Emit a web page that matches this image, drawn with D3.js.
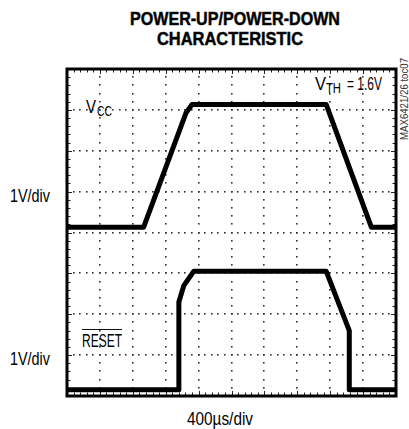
<!DOCTYPE html>
<html><head><meta charset="utf-8">
<script src="https://cdn.jsdelivr.net/npm/d3@7"></script>
<style>
body{margin:0;background:#fff;}
svg{display:block;}
text{font-family:"Liberation Sans Narrow","Liberation Sans",Arial,sans-serif;fill:#000;}
</style></head>
<body>
<svg id="c" width="409" height="429"></svg>
<script>
// ---- data (time in divisions of 400us, voltage in volts) ----
const titleLines = ["POWER-UP/POWER-DOWN", "CHARACTERISTIC"];
const vccTime = [0, 2.33, 3.62, 3.80, 7.88, 9.25, 10];
const vccVolts = [0, 0, 2.80, 3.0, 3.0, 0, 0];
const resetTime = [0, 3.40, 3.40, 3.55, 3.85, 7.88, 8.58, 8.58, 10];
const resetVolts = [0, 0, 2.15, 2.55, 2.9, 2.9, 1.45, 0, 0];
const xDivisions = d3.range(0, 11);
const yDivisions = d3.range(0, 9);
const vccOffsetDiv = 4.13;
const resetOffsetDiv = 0.15;

const svg = d3.select("#c");
const x = d3.scaleLinear().domain([0, 10]).range([67, 396]);
const y = d3.scaleLinear().domain([0, 8]).range([396, 69]);

function label(txt, px, py, size, len, opts) {
  opts = opts || {};
  const t = svg.append("text").attr("x", px).attr("y", py)
    .style("font-size", size + "px").text(txt);
  if (len) t.attr("textLength", len).attr("lengthAdjust", "spacingAndGlyphs");
  if (opts.anchor) t.attr("text-anchor", opts.anchor);
  if (opts.bold) t.style("font-weight", "bold").style("stroke", "#111").style("stroke-width", 0.5);
  if (opts.transform) t.attr("transform", opts.transform);
  if (opts.fill) t.style("fill", opts.fill);
  return t;
}

// title
label(titleLines[0], 130, 25, 17.5, 210, {bold: true});
label(titleLines[1], 157, 45, 17.5, 146, {bold: true});

const g = svg.append("g");
// dotted grid
const minor = d3.range(0, 51).map(i => i / 5);
const minorY = d3.range(0, 41).map(i => i / 5);
xDivisions.slice(1, -1).forEach(xd => {
  minorY.forEach(yd => {
    g.append("rect").attr("x", Math.round(x(xd)) - 1).attr("y", Math.round(y(yd)) - 1)
      .attr("width", 1.6).attr("height", 1.6).attr("fill", "#333");
  });
});
yDivisions.slice(1, -1).forEach(yd => {
  minor.forEach(xd => {
    g.append("rect").attr("x", Math.round(x(xd)) - 1).attr("y", Math.round(y(yd)) - 1)
      .attr("width", 1.6).attr("height", 1.6).attr("fill", "#333");
  });
});
// edge ticks
minorY.forEach((yd, i) => {
  const len = i % 5 === 0 ? 5 : 3.5;
  const yy = Math.round(y(yd)) + 0.5;
  g.append("line").attr("x1", x(0)).attr("x2", x(0) + len).attr("y1", yy).attr("y2", yy)
    .attr("stroke", "#222").attr("stroke-width", 1);
  g.append("line").attr("x1", x(10)).attr("x2", x(10) - len).attr("y1", yy).attr("y2", yy)
    .attr("stroke", "#222").attr("stroke-width", 1);
});
minor.forEach((xd, i) => {
  const len = i % 5 === 0 ? 5 : 3.5;
  const xx = Math.round(x(xd)) + 0.5;
  g.append("line").attr("x1", xx).attr("x2", xx).attr("y1", y(8)).attr("y2", y(8) + len)
    .attr("stroke", "#222").attr("stroke-width", 1);
  g.append("line").attr("x1", xx).attr("x2", xx).attr("y1", y(0)).attr("y2", y(0) - len)
    .attr("stroke", "#222").attr("stroke-width", 1);
});

// traces
const lineVcc = d3.line().x((d, i) => x(vccTime[i])).y(d => y(vccOffsetDiv + d));
const lineReset = d3.line().x((d, i) => x(resetTime[i])).y(d => y(resetOffsetDiv + d));
g.append("path").attr("d", lineVcc(vccVolts)).attr("fill", "none")
  .attr("stroke", "#000").attr("stroke-width", 5).attr("stroke-linejoin", "round");
g.append("path").attr("d", lineReset(resetVolts)).attr("fill", "none")
  .attr("stroke", "#000").attr("stroke-width", 5).attr("stroke-linejoin", "round");

// frame
g.append("rect").attr("x", x(0)).attr("y", y(8)).attr("width", x(10) - x(0)).attr("height", y(0) - y(8))
  .attr("fill", "none").attr("stroke", "#000").attr("stroke-width", 3);

// labels
label("V", 86, 113, 18.5, 10);
label("CC", 97, 116, 14, 15);
label("V", 315, 90, 18, 11);
label("TH", 326, 93, 14, 15);
label("= 1.6V", 347, 90, 18, 35);

label("RESET", 82, 347, 18, 40);
svg.append("line").attr("x1", 82).attr("x2", 122).attr("y1", 329.5).attr("y2", 329.5)
  .attr("stroke", "#111").attr("stroke-width", 1.2);

label("1V/div", 10, 202, 17.5, 40);
label("1V/div", 10, 365, 17.5, 40);
label("400\u00b5s/div", 187, 425, 17.5, 66);

label("MAX6421/26 toc07", 0, 0, 10.5, 82,
  {anchor: "middle", transform: "translate(408,99) rotate(-90)", fill: "#333"});
</script>
</body></html>
